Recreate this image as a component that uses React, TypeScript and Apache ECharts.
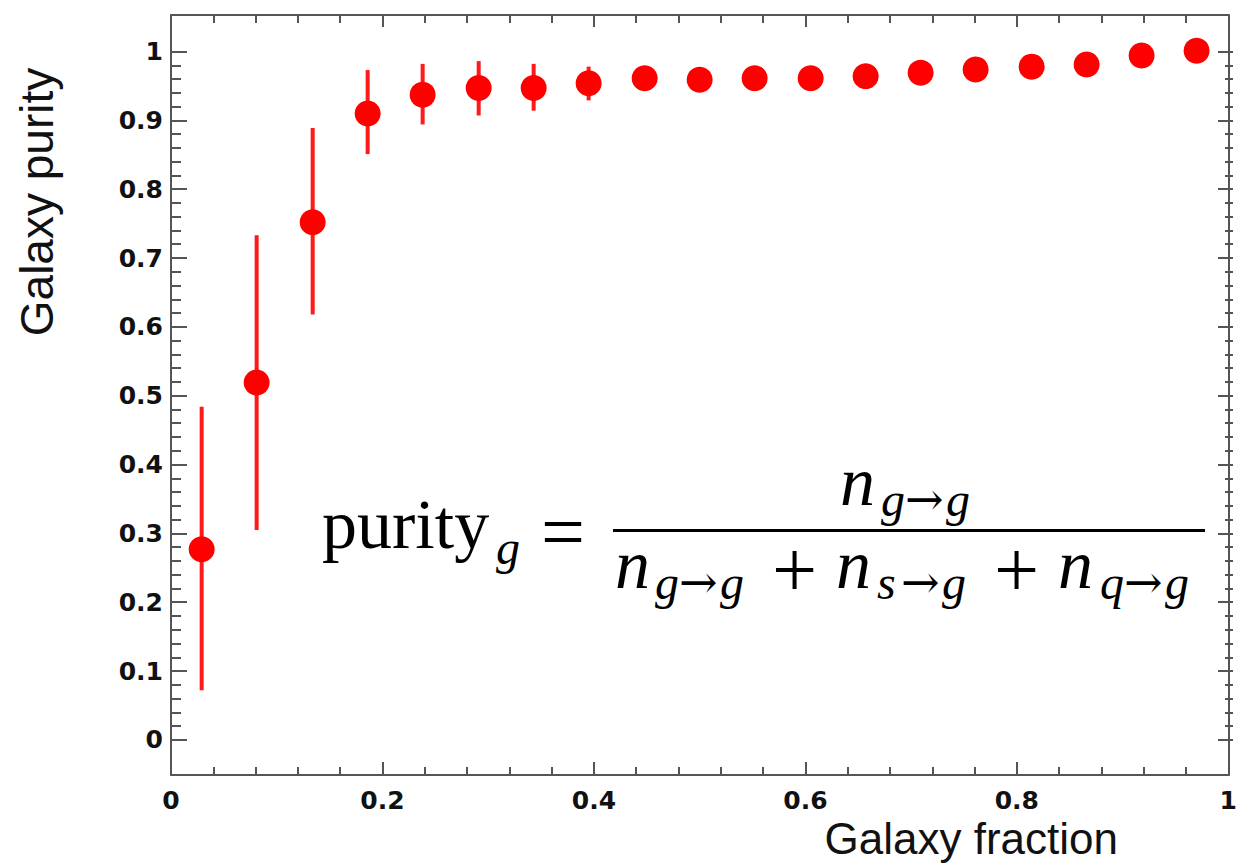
import React, { useEffect, useRef } from 'react';
import * as echarts from 'echarts';

// ---- data ----
const xValues = [0.029, 0.081, 0.134, 0.186, 0.238, 0.291, 0.343, 0.395, 0.448, 0.5, 0.552, 0.605, 0.657, 0.709, 0.761, 0.814, 0.866, 0.918, 0.97];
const purity = [0.277, 0.519, 0.752, 0.91, 0.937, 0.947, 0.947, 0.954, 0.961, 0.959, 0.961, 0.961, 0.964, 0.969, 0.974, 0.978, 0.981, 0.994, 1.001];
const errLow = [0.072, 0.305, 0.618, 0.851, 0.894, 0.907, 0.914, 0.929, 0.948, 0.947, 0.95, 0.951, 0.954, 0.96, 0.966, 0.971, 0.975, 0.989, 0.997];
const errHigh = [0.484, 0.733, 0.889, 0.973, 0.982, 0.986, 0.982, 0.978, 0.974, 0.971, 0.972, 0.971, 0.974, 0.978, 0.982, 0.985, 0.987, 0.999, 1.005];

const xTitle = 'Galaxy fraction';
const yTitle = 'Galaxy purity';

// axis extents
const Y_MIN = -0.051;
const Y_MAX = 1.053;

const SERIF = "'Liberation Serif', 'Times New Roman', serif";
const SANS = "'Liberation Sans', Arial, sans-serif";
const TICKFONT = "'DejaVu Sans', sans-serif";

function txt(text: string, x: number, baseline: number, size: number, italic = false, family = SERIF) {
  const k = 0.3375;
  return {
    type: 'text',
    x,
    y: baseline - k * size,
    z: 100,
    style: {
      text,
      fontFamily: family,
      fontSize: size,
      fontStyle: italic ? 'italic' : 'normal',
      fill: '#000',
      align: 'left',
      verticalAlign: 'middle',
      textAlign: 'left',
      textVerticalAlign: 'middle',
    },
  };
}

// subscript "a→b" drawn as three pieces
function sub(a: string, b: string, x: number, baseline: number) {
  return [
    txt(a, x, baseline, 48, true),
    txt('→', x + 24, baseline - 1, 46, false, "'DejaVu Serif', serif"),
    txt(b, x + 65, baseline, 48, true),
  ];
}

export default function App() {
  const ref = useRef<HTMLDivElement>(null);

  useEffect(() => {
    if (!ref.current) return;
    const chart = echarts.init(ref.current, undefined, { renderer: 'svg' });

    const H = 867;
    const gLeft = 171;
    const gRight = 7;
    const gTop = 15;
    const gBottom = 92;
    const gH = H - gTop - gBottom;
    const span = Y_MAX - Y_MIN;
    const bTop = gTop + (gH * (Y_MAX - 1)) / span;
    const bBottom = gBottom + (gH * (0 - Y_MIN)) / span;

    const axisLineStyle = { color: '#555', width: 2 };
    const tickStyle = { color: '#555', width: 2 };
    const labelStyle = {
      fontFamily: TICKFONT,
      fontWeight: 'bold',
      fontSize: 25,
      color: '#111',
    };

    const option: any = {
      animation: false,
      backgroundColor: '#ffffff',
      grid: [
        { left: gLeft, right: gRight, top: gTop, bottom: gBottom, containLabel: false },
        { left: gLeft, right: gRight, top: bTop, bottom: bBottom, containLabel: false },
      ],
      xAxis: [
        {
          gridIndex: 0,
          type: 'value',
          min: 0,
          max: 1,
          interval: 0.2,
          position: 'bottom',
          axisLine: { show: true, onZero: false, lineStyle: axisLineStyle },
          axisTick: { show: true, inside: true, length: 13, lineStyle: tickStyle },
          minorTick: { show: true, splitNumber: 5, length: 8, lineStyle: tickStyle },
          splitLine: { show: false },
          axisLabel: { show: true, margin: 13, ...labelStyle },
        },
        {
          gridIndex: 0,
          type: 'value',
          min: 0,
          max: 1,
          interval: 0.2,
          position: 'top',
          axisLine: { show: true, onZero: false, lineStyle: axisLineStyle },
          axisTick: { show: true, inside: true, length: 12, lineStyle: tickStyle },
          minorTick: { show: true, splitNumber: 5, length: 8, lineStyle: tickStyle },
          splitLine: { show: false },
          axisLabel: { show: false },
        },
        {
          gridIndex: 1,
          type: 'value',
          min: 0,
          max: 1,
          show: false,
        },
      ],
      yAxis: [
        {
          gridIndex: 0,
          type: 'value',
          min: Y_MIN,
          max: Y_MAX,
          position: 'left',
          axisLine: { show: true, onZero: false, lineStyle: axisLineStyle },
          axisTick: { show: false },
          axisLabel: { show: false },
          splitLine: { show: false },
        },
        {
          gridIndex: 0,
          type: 'value',
          min: Y_MIN,
          max: Y_MAX,
          position: 'right',
          axisLine: { show: true, onZero: false, lineStyle: axisLineStyle },
          axisTick: { show: false },
          axisLabel: { show: false },
          splitLine: { show: false },
        },
        {
          gridIndex: 1,
          type: 'value',
          min: 0,
          max: 1,
          interval: 0.1,
          position: 'left',
          axisLine: { show: false },
          axisTick: { show: true, inside: true, length: 16, lineStyle: tickStyle },
          minorTick: { show: true, splitNumber: 5, length: 10, lineStyle: tickStyle },
          splitLine: { show: false },
          axisLabel: { show: true, margin: 8, ...labelStyle },
        },
        {
          gridIndex: 1,
          type: 'value',
          min: 0,
          max: 1,
          interval: 0.1,
          position: 'right',
          axisLine: { show: false },
          axisTick: { show: true, inside: true, length: 15, lineStyle: tickStyle },
          minorTick: { show: true, splitNumber: 5, length: 8, lineStyle: tickStyle },
          splitLine: { show: false },
          axisLabel: { show: false },
        },
      ],
      series: [
        {
          name: 'error',
          type: 'custom',
          xAxisIndex: 0,
          yAxisIndex: 0,
          z: 2,
          data: xValues.map((x, i) => [x, errLow[i], errHigh[i]]),
          encode: { x: 0, y: [1, 2] },
          renderItem: (params: any, api: any) => {
            const p1 = api.coord([api.value(0), api.value(1)]);
            const p2 = api.coord([api.value(0), api.value(2)]);
            return {
              type: 'line',
              shape: { x1: p1[0], y1: p1[1], x2: p2[0], y2: p2[1] },
              style: { stroke: '#ff1a1a', lineWidth: 4 },
            };
          },
        },
        {
          name: 'purity',
          type: 'scatter',
          xAxisIndex: 0,
          yAxisIndex: 0,
          z: 3,
          symbol: 'circle',
          symbolSize: 26,
          itemStyle: { color: '#ff0000', opacity: 1 },
          data: xValues.map((x, i) => [x, purity[i]]),
        },
      ],
      graphic: [
        // axis titles
        {
          type: 'text',
          x: 1118,
          y: 854 - 0.3465 * 44,
          z: 100,
          style: {
            text: xTitle,
            fontFamily: SANS,
            fontSize: 44,
            fill: '#111',
            align: 'right',
            verticalAlign: 'middle',
            textAlign: 'right',
            textVerticalAlign: 'middle',
          },
        },
        {
          type: 'text',
          x: 53 - 0.3465 * 46,
          y: 202,
          rotation: Math.PI / 2,
          z: 100,
          style: {
            text: yTitle,
            fontFamily: SANS,
            fontSize: 46,
            fill: '#111',
            align: 'center',
            verticalAlign: 'middle',
            textAlign: 'center',
            textVerticalAlign: 'middle',
          },
        },
        // formula: purity_g = n_{g->g} / (n_{g->g} + n_{s->g} + n_{q->g})
        txt('purity', 322, 548, 70),
        txt('g', 496, 564, 48, true),
        txt('=', 541, 558, 78),
        { type: 'rect', z: 100, shape: { x: 613, y: 529, width: 592, height: 3 }, style: { fill: '#000' } },
        txt('n', 840, 505, 70, true),
        ...sub('g', 'g', 881, 516),
        txt('n', 615, 588, 70, true),
        ...sub('g', 'g', 655, 599),
        txt('+', 772, 597, 80),
        txt('n', 836, 588, 70, true),
        ...sub('s', 'g', 877, 599),
        txt('+', 994, 597, 80),
        txt('n', 1058, 588, 70, true),
        ...sub('q', 'g', 1100, 599),
      ],
    };

    chart.setOption(option);
    return () => {
      chart.dispose();
    };
  }, []);

  return (
    <div
      ref={ref}
      style={{ position: 'fixed', left: 0, top: 0, width: 1240, height: 867, background: '#fff' }}
    />
  );
}
